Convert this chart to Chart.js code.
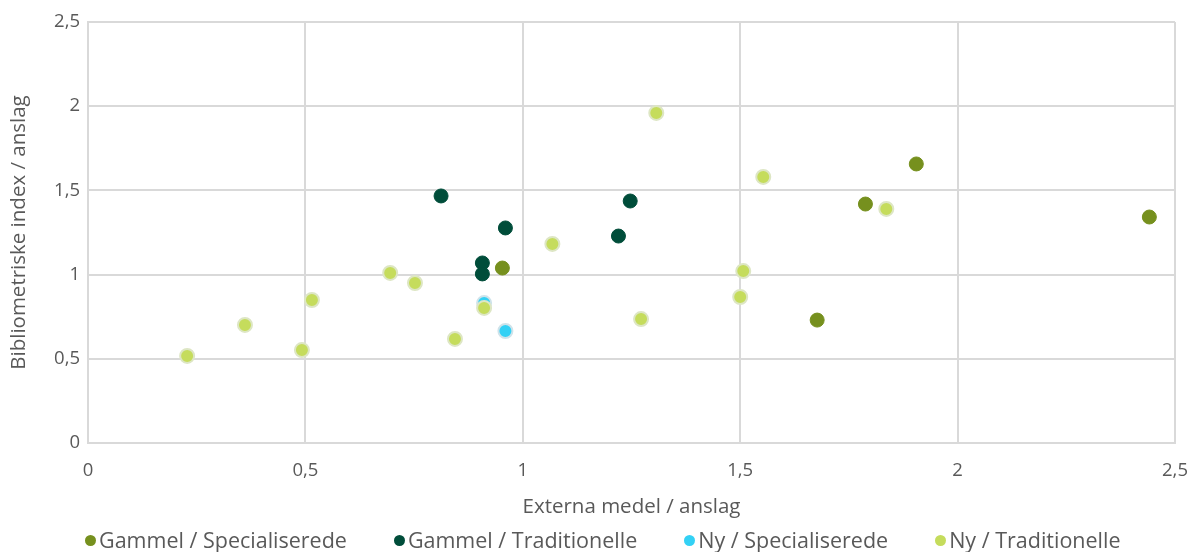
<!DOCTYPE html>
<html>
<head>
<meta charset="utf-8">
<script src="https://cdn.jsdelivr.net/npm/chart.js@4/dist/chart.umd.min.js"></script>
<style>
  html, body { margin: 0; padding: 0; background: #fff; }
  #wrap { position: relative; width: 1189px; height: 552px; }
  #legend {
    position: absolute; left: 85px; top: 527px;
    display: flex; gap: 47px;
    font-family: "Open Sans", sans-serif; font-size: 21.5px; color: #595959;
    line-height: 26px; white-space: nowrap;
  }
  #legend .item { display: flex; align-items: center; }
  #legend .dot { width: 11px; height: 11px; border-radius: 50%; margin-right: 3px; }
</style>
</head>
<body>
<div id="wrap">
  <canvas id="chart" width="1189" height="552"></canvas>
  <div id="legend"></div>
</div>
<script>
// Seriernas namn
const seriesNames = [
  "Gammel / Specialiserede",
  "Gammel / Traditionelle",
  "Ny / Specialiserede",
  "Ny / Traditionelle",
];

// x = Externa medel / anslag, y = Bibliometriske index / anslag
const gammelSpecX = [0.953, 1.677, 1.788, 1.905, 2.441];
const gammelSpecY = [1.039, 0.730, 1.419, 1.657, 1.342];

const gammelTradX = [0.812, 0.907, 0.907, 0.960, 1.220, 1.247];
const gammelTradY = [1.467, 1.069, 1.004, 1.277, 1.229, 1.437];

const nySpecX = [0.911, 0.960];
const nySpecY = [0.831, 0.665];

const nyTradX = [0.228, 0.361, 0.492, 0.515, 0.695, 0.752, 0.844, 0.911, 1.068, 1.272, 1.307, 1.500, 1.507, 1.553, 1.836];
const nyTradY = [0.517, 0.701, 0.552, 0.849, 1.010, 0.950, 0.618, 0.802, 1.182, 0.736, 1.960, 0.867, 1.021, 1.580, 1.390];

const colors = ["#76901e", "#004d3a", "#33d1f5", "#c5dc5c"];
const borders = ["#76901e", "#004d3a", "#cfe3ea", "#dde6c4"];

function toPoints(xs, ys) {
  return xs.map((x, i) => ({ x: x, y: ys[i] }));
}

const allX = [gammelSpecX, gammelTradX, nySpecX, nyTradX];
const allY = [gammelSpecY, gammelTradY, nySpecY, nyTradY];

const datasets = seriesNames.map((name, i) => ({
  label: name,
  data: toPoints(allX[i], allY[i]),
  backgroundColor: colors[i],
  borderColor: borders[i],
  borderWidth: i >= 2 ? 2 : 1,
  pointRadius: 7,
  pointHoverRadius: 7,
  order: 4 - i, // senare serie ritas ovanpå
}));

// Legend som HTML under diagrammet
const legendEl = document.getElementById("legend");
seriesNames.forEach((name, i) => {
  const item = document.createElement("span");
  item.className = "item";
  const dot = document.createElement("span");
  dot.className = "dot";
  dot.style.background = colors[i];
  const txt = document.createElement("span");
  txt.textContent = name;
  item.appendChild(dot);
  item.appendChild(txt);
  legendEl.appendChild(item);
});

const fontFam = "'Open Sans', sans-serif";
const comma = (v) => String(v).replace(".", ",");

new Chart(document.getElementById("chart"), {
  type: "scatter",
  data: { datasets: datasets },
  options: {
    responsive: false,
    animation: false,
    layout: { padding: { left: 0, right: 14, top: 22, bottom: 29 } },
    plugins: {
      tooltip: { enabled: false },
      legend: { display: false },
    },
    scales: {
      x: {
        type: "linear",
        min: 0,
        max: 2.5,
        afterFit: (scale) => {
          scale.height = 80;
          scale.paddingLeft = 0;
          scale.paddingRight = 0;
        },
        ticks: {
          stepSize: 0.5,
          color: "#595959",
          padding: 17,
          font: { family: fontFam, size: 18.5 },
          callback: (v) => comma(v),
        },
        grid: { color: "#d9d9d9", lineWidth: 2, drawTicks: false },
        border: { color: "#d9d9d9", width: 2 },
        title: {
          display: true,
          text: "Externa medel / anslag",
          color: "#595959",
          font: { family: fontFam, size: 20.5 },
          padding: { top: 0, bottom: 4 },
        },
      },
      y: {
        type: "linear",
        min: 0,
        max: 2.5,
        afterFit: (scale) => {
          scale.width = 88;
          scale.paddingTop = 0;
          scale.paddingBottom = 0;
        },
        ticks: {
          stepSize: 0.5,
          color: "#595959",
          padding: 8,
          font: { family: fontFam, size: 18.5 },
          callback: (v) => comma(v),
        },
        grid: { color: "#d9d9d9", lineWidth: 2, drawTicks: false },
        border: { color: "#d9d9d9", width: 2 },
        title: {
          display: true,
          text: "Bibliometriske index / anslag",
          color: "#595959",
          font: { family: fontFam, size: 20.5 },
          padding: { top: 7, bottom: 0 },
        },
      },
    },
  },
});
</script>
</body>
</html>
